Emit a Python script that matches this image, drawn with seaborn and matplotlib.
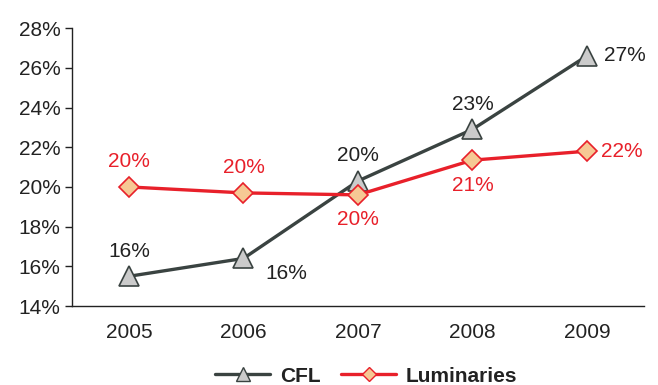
import matplotlib
matplotlib.use("Agg")
import matplotlib.pyplot as plt
from matplotlib.lines import Line2D
import seaborn as sns
import pandas as pd

years = ["2005", "2006", "2007", "2008", "2009"]
cfl = [15.5, 16.4, 20.3, 22.9, 26.6]
luminaries = [20.0, 19.7, 19.6, 21.35, 21.8]
y_ticks = [14, 16, 18, 20, 22, 24, 26, 28]

sns.set_theme(style="white")
plt.rcParams["font.family"] = ["Liberation Sans", "DejaVu Sans"]

dark = "#3a4341"
red = "#e8202a"
tri_fill = "#cbcbcb"
dia_fill = "#f6c894"
fs = 15

df = pd.DataFrame({
    "year": years * 2,
    "share": cfl + luminaries,
    "series": ["CFL"] * len(years) + ["Luminaries"] * len(years),
})

fig, ax = plt.subplots(figsize=(6.58, 3.85), dpi=100)
fig.subplots_adjust(left=0.109, right=0.979, top=0.927, bottom=0.205)

sns.lineplot(data=df[df.series == "CFL"], x="year", y="share", ax=ax,
             color=dark, lw=2.4, marker="^", markersize=15,
             markerfacecolor=tri_fill, markeredgecolor=dark, markeredgewidth=1.2,
             legend=False, sort=False)
sns.lineplot(data=df[df.series == "Luminaries"], x="year", y="share", ax=ax,
             color=red, lw=2.4, marker="D", markersize=10.5,
             markerfacecolor=dia_fill, markeredgecolor=red, markeredgewidth=1.2,
             legend=False, sort=False)

# value labels
cfl_off = [(0, 18, "center"), (16, -11, "left"), (0, 18, "center"), (0, 18, "center"), (12, 0, "left")]
lum_off = [(0, 18, "center"), (0, 18, "center"), (0, -18, "center"), (0, -18, "center"), (10, 0, "left")]
for i, (v, (dx, dy, ha)) in enumerate(zip(cfl, cfl_off)):
    ax.annotate(f"{round(v)}%", (i, v), xytext=(dx, dy), textcoords="offset points",
                ha=ha, va="center", fontsize=fs, color="#222222")
for i, (v, (dx, dy, ha)) in enumerate(zip(luminaries, lum_off)):
    ax.annotate(f"{round(v)}%", (i, v), xytext=(dx, dy), textcoords="offset points",
                ha=ha, va="center", fontsize=fs, color=red)

ax.set_xlim(-0.5, len(years) - 0.5)
ax.set_ylim(14, 28)
ax.set_yticks(y_ticks)
ax.set_yticklabels([f"{t}%" for t in y_ticks])
ax.set_xticks(range(len(years)))
ax.set_xticklabels(years)
ax.set_xticks([i - 0.5 for i in range(len(years) + 1)], minor=True)
ax.tick_params(axis="x", which="major", length=0, pad=12, labelsize=fs, colors="#222222")
ax.tick_params(axis="x", which="minor", length=5, width=1, color="#222222", direction="out")
ax.tick_params(axis="y", length=5, width=1, color="#222222", direction="out", labelsize=fs,
               labelcolor="#222222", left=True, pad=3)
ax.set_xlabel("")
ax.set_ylabel("")
for s in ["top", "right"]:
    ax.spines[s].set_visible(False)
for s in ["left", "bottom"]:
    ax.spines[s].set_color("#222222")
    ax.spines[s].set_linewidth(1)

handles = [
    Line2D([], [], color=dark, lw=2.4, marker="^", markersize=10,
           markerfacecolor=tri_fill, markeredgecolor=dark),
    Line2D([], [], color=red, lw=2.4, marker="D", markersize=7,
           markerfacecolor=dia_fill, markeredgecolor=red),
]
leg = fig.legend(handles, ["CFL", "Luminaries"], loc="lower center", ncol=2,
                 bbox_to_anchor=(0.557, -0.05), frameon=False, handlelength=2.6,
                 columnspacing=1.0, handletextpad=0.5,
                 prop={"weight": "bold", "size": fs})
for t in leg.get_texts():
    t.set_color("#222222")

fig.savefig("out.png", dpi=100)
